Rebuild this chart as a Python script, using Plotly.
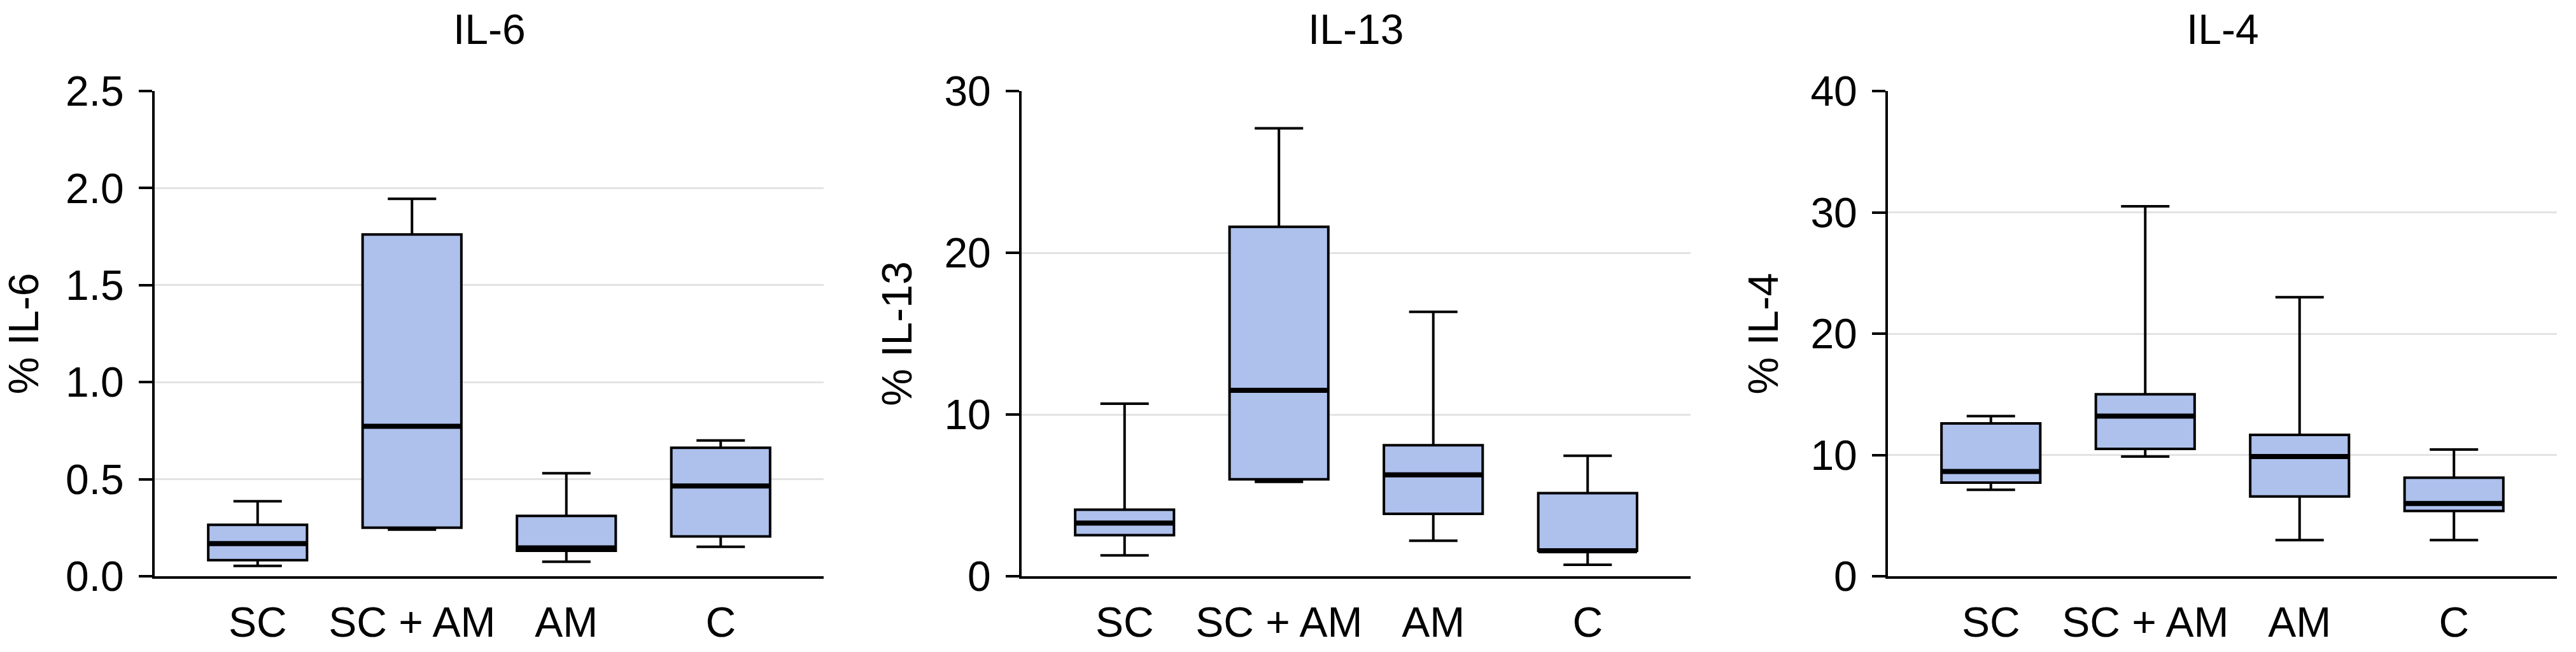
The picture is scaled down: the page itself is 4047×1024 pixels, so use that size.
import plotly.graph_objects as go

# ---------------- data ----------------
categories = ["SC", "SC + AM", "AM", "C"]
panel_titles = ["IL-6", "IL-13", "IL-4"]
y_titles = ["% IL-6", "% IL-13", "% IL-4"]

# IL-6
il6_low = [0.053, 0.240, 0.075, 0.152]
il6_q1 = [0.083, 0.250, 0.131, 0.205]
il6_med = [0.168, 0.773, 0.146, 0.465]
il6_q3 = [0.265, 1.761, 0.311, 0.662]
il6_high = [0.386, 1.945, 0.531, 0.700]

# IL-13
il13_low = [1.29, 5.84, 2.19, 0.71]
il13_q1 = [2.54, 5.99, 3.86, 1.57]
il13_med = [3.29, 11.50, 6.27, 1.57]
il13_q3 = [4.11, 21.60, 8.10, 5.14]
il13_high = [10.67, 27.70, 16.35, 7.45]

# IL-4
il4_low = [7.13, 9.87, 2.98, 2.98]
il4_q1 = [7.71, 10.50, 6.58, 5.38]
il4_med = [8.64, 13.20, 9.87, 6.00]
il4_q3 = [12.60, 15.00, 11.65, 8.12]
il4_high = [13.20, 30.50, 23.00, 10.45]

il6_ticks = [0.0, 0.5, 1.0, 1.5, 2.0, 2.5]
il13_ticks = [0, 10, 20, 30]
il4_ticks = [0, 10, 20, 30, 40]

panels = [
    (il6_low, il6_q1, il6_med, il6_q3, il6_high, il6_ticks, ".1f"),
    (il13_low, il13_q1, il13_med, il13_q3, il13_high, il13_ticks, "d"),
    (il4_low, il4_q1, il4_med, il4_q3, il4_high, il4_ticks, "d"),
]

# ---------------- style ----------------
W, H = 4047, 1024
FONT = "Liberation Sans, Arial, Helvetica, sans-serif"
FS = 66
FILL = "#aec0ec"
BOX_W = 0.64
x_domains = [(243 / W, 1294 / W), (1605 / W, 2656 / W), (2966 / W, 4017 / W)]
y_domain = (119 / H, 1 - 143 / H)

fig = go.Figure()
xpos = list(range(len(categories)))

for i, (lo, q1, med, q3, hi, ticks, fmt) in enumerate(panels):
    n = "" if i == 0 else str(i + 1)
    xa, ya = "x" + n, "y" + n
    fig.add_trace(go.Box(
        x=xpos, q1=q1, median=med, q3=q3, lowerfence=lo, upperfence=hi,
        width=BOX_W, whiskerwidth=0.49, fillcolor=FILL,
        line=dict(color="black", width=4), boxpoints=False,
        xaxis=xa, yaxis=ya, showlegend=False, hoverinfo="skip",
    ))
    mx, my = [], []
    for k, m in enumerate(med):
        mx += [xpos[k] - BOX_W / 2, xpos[k] + BOX_W / 2, None]
        my += [m, m, None]
    fig.add_trace(go.Scatter(
        x=mx, y=my, mode="lines", line=dict(color="black", width=8),
        xaxis=xa, yaxis=ya, showlegend=False, hoverinfo="skip",
    ))
    fig.update_layout(**{
        "xaxis" + n: dict(
            domain=list(x_domains[i]), anchor=ya, range=[-0.667, 3.667],
            tickvals=xpos, ticktext=categories, showgrid=False, zeroline=False,
            showline=True, linecolor="black", linewidth=4, ticks="",
            tickfont=dict(size=FS, color="black", family=FONT),
            ticklabelstandoff=12, automargin=False, fixedrange=True,
        ),
        "yaxis" + n: dict(
            domain=list(y_domain), anchor=xa, range=[0, ticks[-1]],
            tickvals=ticks, tickformat=fmt, showgrid=True,
            gridcolor="#e3e3e3", gridwidth=3, zeroline=False,
            showline=True, linecolor="black", linewidth=4,
            ticks="outside", ticklen=21, tickwidth=4, tickcolor="black",
            tickfont=dict(size=FS, color="black", family=FONT),
            ticklabelstandoff=10, automargin=False, fixedrange=True,
            title=dict(text=y_titles[i], font=dict(size=FS, color="black", family=FONT), standoff=30),
        ),
    })
    fig.add_annotation(
        text=panel_titles[i], xref="paper", yref="paper",
        x=(x_domains[i][0] + x_domains[i][1]) / 2, y=1 - 46 / H,
        xanchor="center", yanchor="middle", showarrow=False,
        font=dict(size=FS, color="black", family=FONT),
    )

fig.update_layout(
    width=W, height=H, autosize=False,
    margin=dict(l=0, r=0, t=0, b=0),
    paper_bgcolor="white", plot_bgcolor="white",
    font=dict(family=FONT, color="black", size=FS),
)

fig.write_html(
    "out.html",
    config={"displayModeBar": False},
    post_script="document.body.style.margin='0';",
)
